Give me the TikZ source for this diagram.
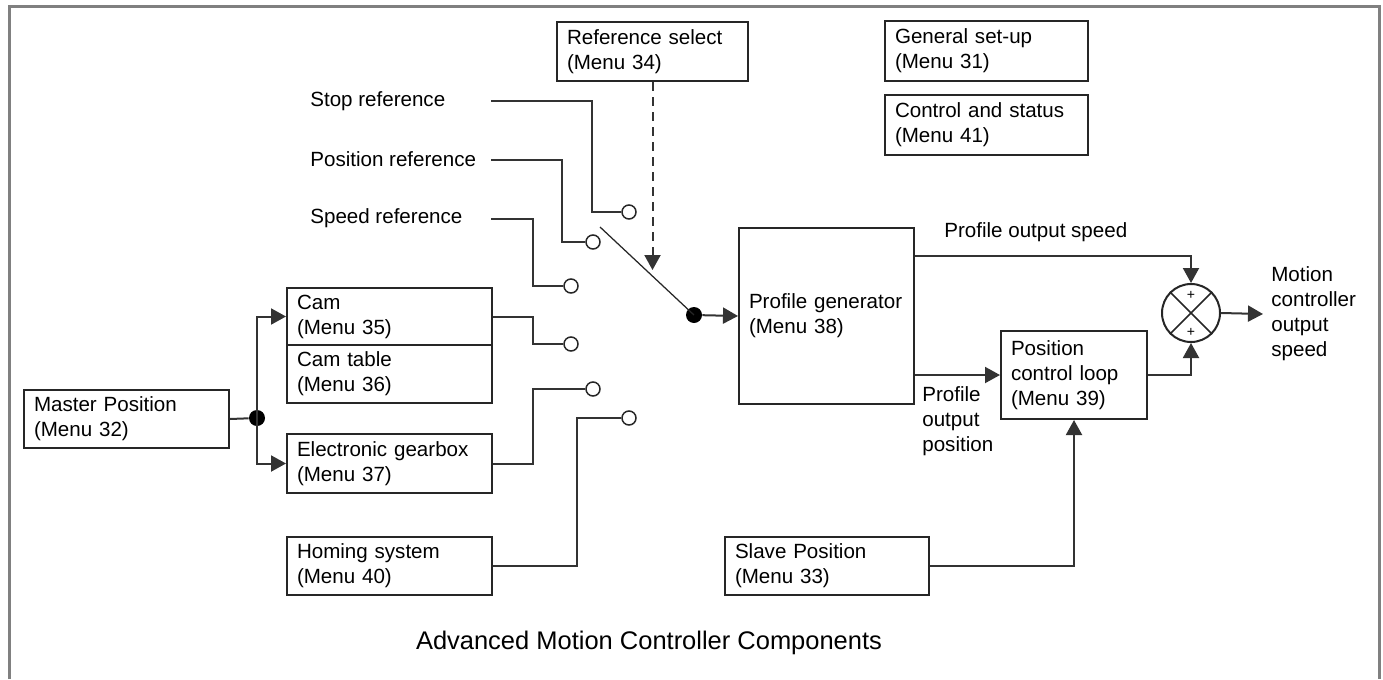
\documentclass[tikz,border=0pt]{standalone}
\usepackage{fontspec}
\setmainfont{Liberation Sans}
\usetikzlibrary{arrows.meta}
\newcommand{\labfont}{\fontsize{11.7}{14.2}\selectfont}
\tikzset{
  blk/.style={draw=black!85, line width=0.4mm, anchor=north west, align=left,
    inner xsep=2mm, inner ysep=0pt, font=\labfont},
  lbl/.style={inner sep=0pt, align=left, font=\labfont},
  contact/.style={circle, draw=black!85, line width=0.3mm, fill=white,
    minimum size=2.8mm, inner sep=0pt},
  joint/.style={circle, fill=black, minimum size=3.2mm, inner sep=0pt},
  wire/.style={draw=black!80, line width=0.4mm},
  >={Triangle[length=3mm,width=3.2mm]}
}
\begin{document}
\begin{tikzpicture}[x=0.2mm, y=-0.2mm]
    \useasboundingbox (0,0) rectangle (1383,679);
    % outer frame, open at the bottom
    \draw[black!50, line width=0.6mm] (9,679) |- (1379,6) -- (1379,679);

    % menu blocks
    \node[blk, text width=34.2mm, minimum height=11.8mm] (refsel) at (556,21) {Reference select\\(Menu 34)};
    \node[blk, text width=36.6mm, minimum height=12mm] (gensetup) at (884,20) {General set-up\\(Menu 31)};
    \node[blk, text width=36.6mm, minimum height=12mm] (ctrlstat) at (884,94) {Control and status\\(Menu 41)};
    \node[blk, text width=37mm, minimum height=11.4mm] (cam) at (286,287) {Cam\\(Menu 35)};
    \node[blk, text width=37mm, minimum height=11.6mm] (camtab) at (286,344) {Cam table\\(Menu 36)};
    \node[blk, text width=37mm, minimum height=11.6mm] (master) at (23,389) {Master Position\\(Menu 32)};
    \node[blk, text width=37mm, minimum height=11.8mm] (gearbox) at (286,433) {Electronic gearbox\\(Menu 37)};
    \node[blk, text width=37mm, minimum height=11.6mm] (homing) at (286,536) {Homing system\\(Menu 40)};
    \node[blk, text width=31mm, minimum height=35.2mm] (profgen) at (738,227) {Profile generator\\(Menu 38)};
    \node[blk, text width=25.2mm, minimum height=17.6mm] (posloop) at (1000,330) {Position\\control loop\\(Menu 39)};
    \node[blk, text width=36.8mm, minimum height=11.6mm] (slave) at (724,536) {Slave Position\\(Menu 33)};

    % reference inputs
    \node[lbl, anchor=west] (stopref) at (310,101) {Stop reference};
    \node[lbl, anchor=west] (posref) at (310,159) {Position reference};
    \node[lbl, anchor=west] (spdref) at (310,218) {Speed reference};
    \coordinate (stopin) at (491,101);
    \coordinate (posin) at (491,160);
    \coordinate (spdin) at (491,219);

    % selector contacts
    \node[contact] (stopc) at (629,212) {};
    \node[contact] (posc) at (593,242) {};
    \node[contact] (spdc) at (571,286) {};
    \node[contact] (camc) at (571,344) {};
    \node[contact] (gearc) at (593,389) {};
    \node[contact] (homc) at (629,418) {};

    \draw[wire] (stopin) -| ([xshift=-5.8mm]stopc.west) -- (stopc.west);
    \draw[wire] (posin) -| ([xshift=-4.6mm]posc.west) -- (posc.west);
    \draw[wire] (spdin) -| ([xshift=-6mm]spdc.west) -- (spdc.west);
    \draw[wire] (cam.east) -| ([xshift=-6mm]camc.west) -- (camc.west);
    \draw[wire] (gearbox.east) -| ([xshift=-10.4mm]gearc.west) -- (gearc.west);
    \draw[wire] (homing.east) -| ([xshift=-8.8mm]homc.west) -- (homc.west);

    % master position split
    \node[joint] (jn) at (257,418) {};
    \draw[wire] (master.east) -- (jn);
    \draw[wire, ->] (jn.center) |- (cam.west);
    \draw[wire, ->] (jn.center) |- (gearbox.west);

    % selector switch
    \node[joint] (pivot) at (694,315) {};
    \coordinate (swfree) at (600,227);
    \coordinate (swtip) at (651,270);
    \draw[black!85, line width=0.25mm] (swfree) -- (pivot.center);
    \draw[wire, dash pattern=on 1.8mm off 1.2mm, ->] (refsel.south) -- (refsel.south |- swtip);
    \draw[wire, ->] (pivot) -- (profgen.west);

    % summing junction
    \node[circle, draw=black!85, line width=0.4mm, minimum size=11.6mm, inner sep=0pt] (sum) at (1191,313) {};
    \draw[black!85, line width=0.3mm] (sum.north east) -- (sum.south west) (sum.north west) -- (sum.south east);
    \node[font=\footnotesize, inner sep=0pt] (plusa) at (1191,295) {+};
    \node[font=\footnotesize, inner sep=0pt] (plusb) at (1191,332) {+};

    \node[lbl, anchor=west] (spdout) at (944,232) {Profile output speed};
    \node[lbl, anchor=west] (posout) at (922,421) {Profile\\output\\position};
    \draw[wire, ->] ([yshift=-5.8mm]profgen.north east) -| (sum.north);
    \draw[wire, ->] (profgen.east |- posloop.west) -- (posloop.west);
    \draw[wire, ->] (posloop.east) -| (sum.south);
    \draw[wire, ->] (slave.east) -| (posloop.south);

    \node[lbl, anchor=west, inner xsep=1.6mm] (motion) at (1263,314) {Motion\\controller\\output\\speed};
    \draw[wire, ->] (sum.east) -- (motion.west);

    \node[font=\fontsize{14.5}{17}\selectfont] (title) at (649,643) {Advanced Motion Controller Components};
\end{tikzpicture}
\end{document}
